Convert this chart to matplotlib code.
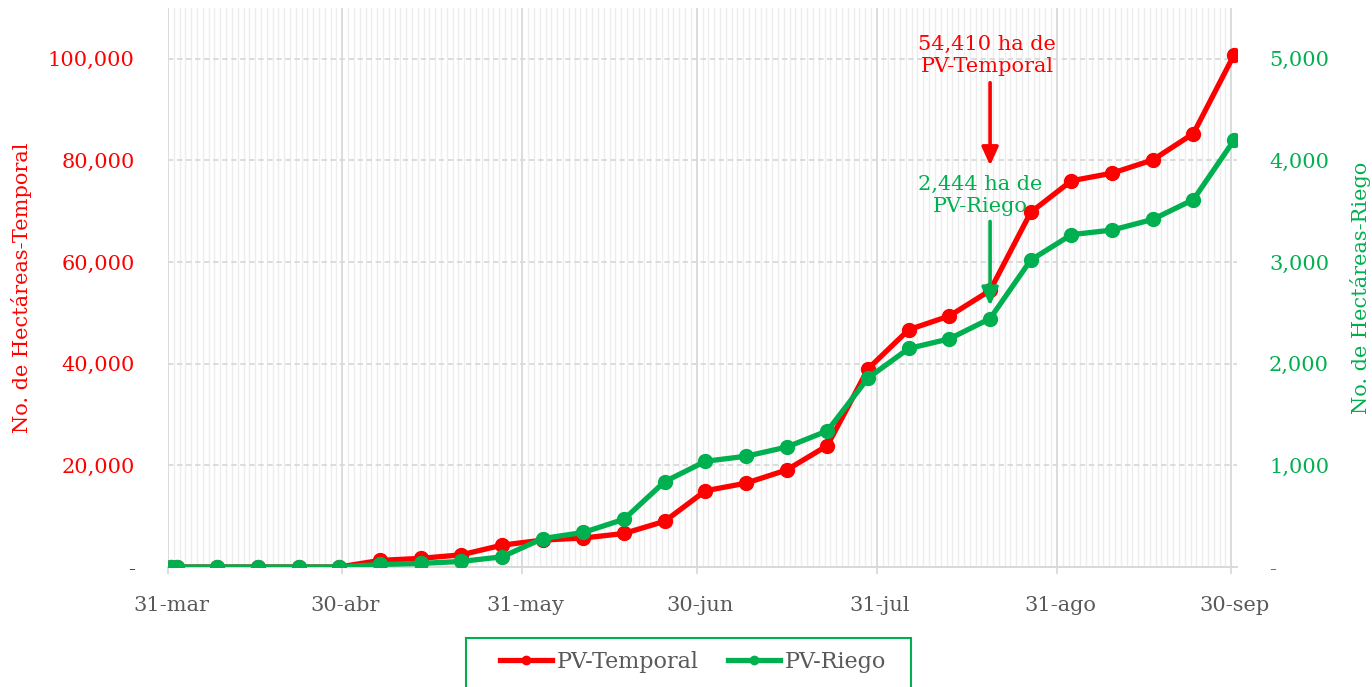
import numpy as np
import pandas as pd
import matplotlib
matplotlib.use('Agg')
import matplotlib.pyplot as plt
import matplotlib.dates as mdates
from matplotlib.ticker import FuncFormatter, MultipleLocator, FixedLocator
from matplotlib.transforms import ScaledTranslation
from matplotlib.patches import Rectangle

fechas = ['2020-03-31', '2020-04-01', '2020-04-08', '2020-04-15', '2020-04-22', '2020-04-29',
          '2020-05-06', '2020-05-13', '2020-05-20', '2020-05-27', '2020-06-03', '2020-06-10',
          '2020-06-17', '2020-06-24', '2020-07-01', '2020-07-08', '2020-07-15', '2020-07-22',
          '2020-07-29', '2020-08-05', '2020-08-12', '2020-08-19', '2020-08-26', '2020-09-02',
          '2020-09-09', '2020-09-16', '2020-09-23', '2020-09-30']
temporal = [0, 0, 0, 0, 0, 0, 1300, 1700, 2400, 4300, 5300, 5700, 6600, 9000, 15000, 16500,
            19100, 23900, 39000, 46700, 49400, 54410, 69800, 76000, 77500, 80100, 85300, 100800]
riego = [0, 0, 0, 0, 0, 0, 25, 35, 55, 100, 280, 340, 470, 840, 1040, 1090,
         1180, 1340, 1860, 2150, 2245, 2444, 3020, 3270, 3315, 3420, 3615, 4200]
meses = ['2020-03-31', '2020-04-30', '2020-05-31', '2020-06-30', '2020-07-31', '2020-08-31', '2020-09-30']
etiquetas_meses = ['31-mar', '30-abr', '31-may', '30-jun', '31-jul', '31-ago', '30-sep']

rojo = '#FF0000'
verde = '#00B050'
gris = '#595959'

plt.rcParams['font.family'] = 'DejaVu Serif'
plt.rcParams['font.size'] = 15

fig = plt.figure(figsize=(13.72, 6.87), dpi=100)
ax = fig.add_axes([168/1372, 1-567/687, (1237-168)/1372, (567-8)/687])
ax2 = ax.twinx()

# Excel date axis: points sit in the middle of each day slot
x = mdates.date2num(pd.to_datetime(fechas)) + 0.5
l1, = ax.plot(x, temporal, color=rojo, lw=3.8, marker='o', ms=10, label='PV-Temporal', zorder=3)
l2, = ax2.plot(x, riego, color=verde, lw=3.8, marker='o', ms=10, label='PV-Riego', zorder=3)

ax.set_xlim(mdates.date2num(pd.Timestamp('2020-03-31')), mdates.date2num(pd.Timestamp('2020-10-01')))
ax.set_ylim(0, 110000)
ax2.set_ylim(0, 5500)

fmt = FuncFormatter(lambda v, p: '-' if v == 0 else f'{v:,.0f}')
ax.yaxis.set_major_locator(MultipleLocator(20000))
ax.yaxis.set_major_formatter(fmt)
ax2.yaxis.set_major_locator(MultipleLocator(1000))
ax2.yaxis.set_major_formatter(fmt)

ax.xaxis.set_major_locator(FixedLocator(mdates.date2num(pd.to_datetime(meses))))
ax.set_xticklabels(etiquetas_meses)
ax.xaxis.set_minor_locator(mdates.DayLocator())

ax.grid(which='minor', axis='x', color='#EDEDED', lw=1)
ax.grid(which='major', axis='x', color='#D9D9D9', lw=1.3)
ax.grid(which='major', axis='y', color='#D9D9D9', lw=1.3, ls=(0, (3, 2)))
ax.set_axisbelow(True)

for a in (ax, ax2):
    for s in ['top', 'left', 'right']:
        a.spines[s].set_visible(False)
    a.spines['bottom'].set_color('#D9D9D9')
    a.spines['bottom'].set_linewidth(1.3)

ax.tick_params(axis='x', which='major', length=5, width=1.3, color='#D9D9D9', pad=16, labelcolor=gris, labelsize=15)
ax.tick_params(axis='x', which='minor', length=0)
ax.tick_params(axis='y', length=0, pad=24, labelcolor=rojo, labelsize=15)
ax2.tick_params(axis='y', length=0, pad=23, labelcolor=verde, labelsize=15)
for lab in ax.get_xticklabels():
    lab.set_transform(lab.get_transform() + ScaledTranslation(3/100, 0, fig.dpi_scale_trans))

ax.set_ylabel('No. de Hectáreas-Temporal', color=rojo, fontsize=15)
ax.yaxis.set_label_coords(-0.127, 0.5)
ax2.set_ylabel('No. de Hectáreas-Riego', color=verde, fontsize=15)
ax2.yaxis.set_label_coords(1.1057, 0.5)

# anotaciones
xa = mdates.date2num(pd.Timestamp('2020-08-19')) + 0.5
flecha = '-|>,head_width=0.25,head_length=0.55'
ax.text(xa - 0.5, 96600, '54,410 ha de\nPV-Temporal', ha='center', va='bottom', color=rojo, fontsize=15)
ax.annotate('', xy=(xa, 79000), xytext=(xa, 95300),
            arrowprops=dict(arrowstyle=flecha, color=rojo, lw=2.6,
                            mutation_scale=20, shrinkA=0, shrinkB=0))
ax2.text(xa - 1.7, 3450, '2,444 ha de\nPV-Riego', ha='center', va='bottom', color=verde, fontsize=15)
ax2.annotate('', xy=(xa, 2570), xytext=(xa, 3400),
             arrowprops=dict(arrowstyle=flecha, color=verde, lw=2.6,
                             mutation_scale=20, shrinkA=0, shrinkB=0))

# legend box (bottom edge runs off the figure as in the original)
fig.patches.append(Rectangle((466/1372, -0.05), 445/1372, (687-638)/687 + 0.05, transform=fig.transFigure,
                             fill=False, edgecolor=verde, lw=1.5))
leg = fig.legend(handles=[l1, l2], loc='center', bbox_to_anchor=(693/1372, 1-662/687), ncol=2,
                 frameon=False, markerscale=0.6, handlelength=2.35, handletextpad=0.2,
                 columnspacing=1.3, borderpad=0, borderaxespad=0, fontsize=16)
for t in leg.get_texts():
    t.set_color(gris)

fig.savefig('out.png', dpi=100)
